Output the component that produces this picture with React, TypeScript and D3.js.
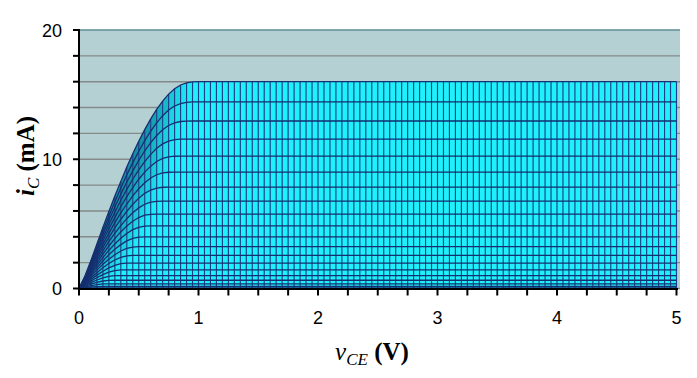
import React from "react";
import * as d3 from "d3";

// Saturation current of each curve (mA), read from the flat part at the right
const levels = [0.04, 0.16, 0.36, 0.64, 1.0, 1.44, 1.96, 2.56, 3.24, 4.0, 4.84, 5.76, 6.76, 7.84, 9.0, 10.24, 11.56, 12.96, 14.44, 16.0];
// Voltage (V) at which each curve reaches its flat level
const kneeV = [0.15, 0.195, 0.24, 0.285, 0.33, 0.375, 0.42, 0.465, 0.51, 0.555, 0.6, 0.645, 0.69, 0.735, 0.78, 0.825, 0.87, 0.915, 0.96, 1.0];
// Normalised rise profile (fraction of knee voltage -> fraction of level)
const shapeU = [0, 0.05, 0.1, 0.15, 0.2, 0.25, 0.3, 0.35, 0.4, 0.45, 0.5, 0.55, 0.6, 0.65, 0.7, 0.75, 0.8, 0.85, 0.9, 0.95, 1.0];
const shapeF = [0, 0.06, 0.135, 0.215, 0.295, 0.372, 0.447, 0.518, 0.588, 0.652, 0.712, 0.768, 0.82, 0.866, 0.906, 0.94, 0.966, 0.984, 0.994, 0.999, 1];

const xTickLabels = [0, 1, 2, 3, 4, 5];
const yTickLabels = [0, 10, 20];
const columnStep = 0.05;
const vMax = 5;
const iMax = 20;

export default function App() {
  const x = d3.scaleLinear().domain([0, vMax]).range([79, 676.5]);
  const y = d3.scaleLinear().domain([0, iMax]).range([288.5, 30]);
  const shape = d3.scaleLinear().domain(shapeU).range(shapeF).clamp(true);

  const vs = d3.range(0, Math.round(vMax / columnStep) + 1).map((j) => j * columnStep);
  const curves = levels.map((lv, k) => vs.map((v) => lv * shape(v / kneeV[k])));
  const zero = vs.map(() => 0);

  const cyan = "#1ff1fa";
  const teal = "#1590a6";
  const shade = d3.interpolateRgb(cyan, teal);

  const cells: JSX.Element[] = [];
  curves.forEach((cur, k) => {
    const low = k === 0 ? zero : curves[k - 1];
    for (let j = 0; j < vs.length - 1; j++) {
      const x0 = x(vs[j]);
      const x1 = x(vs[j + 1]);
      const pts = [
        [x0, y(low[j])],
        [x1, y(low[j + 1])],
        [x1, y(cur[j + 1])],
        [x0, y(cur[j])],
      ];
      const slopeTop = (y(cur[j]) - y(cur[j + 1])) / (x1 - x0);
      const slopeLow = (y(low[j]) - y(low[j + 1])) / (x1 - x0);
      const t = Math.min(1, Math.max(0, ((slopeTop + slopeLow) / 2) / 1.8));
      cells.push(
        <polygon
          key={`c${k}-${j}`}
          points={pts.map((p) => p.join(",")).join(" ")}
          fill={shade(t)}
          stroke={shade(t)}
          strokeWidth={0.3}
        />
      );
    }
  });

  const top = curves[curves.length - 1];
  const line = d3
    .line<number>()
    .x((_, j) => x(vs[j]))
    .y((d) => y(d));

  const gridVals = d3.range(0, iMax + 0.001, 2);
  const xMinorTicks = d3.range(0, vMax + 0.001, 0.25);

  return (
    <svg
      width={697}
      height={378}
      style={{ position: "absolute", left: 0, top: 0, background: "#fff" }}
    >
      <rect x={79} y={30} width={601} height={258.5} fill="#b4d0d2" />
      {gridVals.map((g) => (
        <line
          key={`g${g}`}
          x1={79}
          x2={680}
          y1={y(g)}
          y2={y(g)}
          stroke={g === iMax ? "#5e8e94" : "#858a8a"}
          strokeWidth={1.4}
        />
      ))}
      {cells}
      {vs.map((v, j) => (
        <line
          key={`v${j}`}
          x1={x(v)}
          x2={x(v)}
          y1={y(0)}
          y2={y(top[j])}
          stroke="#1d3f8c"
          strokeWidth={1.15}
        />
      ))}
      {curves.map((cur, k) => (
        <path
          key={`l${k}`}
          d={line(cur) || ""}
          fill="none"
          stroke="#152f70"
          strokeWidth={1.3}
        />
      ))}
      {/* axes */}
      <line x1={79} x2={79} y1={29} y2={289.5} stroke="#000" strokeWidth={2} />
      <line x1={78} x2={678} y1={289} y2={289} stroke="#000" strokeWidth={2} />
      {gridVals.map((g) => (
        <line key={`yt${g}`} x1={73} x2={79} y1={y(g)} y2={y(g)} stroke="#000" strokeWidth={2} />
      ))}
      {xMinorTicks.map((t) => (
        <line key={`xt${t}`} x1={x(t)} x2={x(t)} y1={289} y2={295.5} stroke="#000" strokeWidth={2} />
      ))}
      {yTickLabels.map((t) => (
        <text
          key={`yl${t}`}
          x={62}
          y={y(t) + 6.5}
          textAnchor="end"
          fontFamily="Liberation Sans, Arial, sans-serif"
          fontSize={18}
          fill="#000"
        >
          {t}
        </text>
      ))}
      {xTickLabels.map((t) => (
        <text
          key={`xl${t}`}
          x={x(t)}
          y={324}
          textAnchor="middle"
          fontFamily="Liberation Sans, Arial, sans-serif"
          fontSize={18}
          fill="#000"
        >
          {t}
        </text>
      ))}
      <text
        x={372}
        y={360}
        textAnchor="middle"
        fontFamily="Liberation Serif, Times New Roman, serif"
        fontSize={25}
        fill="#000"
      >
        <tspan fontStyle="italic">v</tspan>
        <tspan fontStyle="italic" fontSize={17} dy={5}>CE</tspan>
        <tspan fontWeight="bold" dy={-5}> (V)</tspan>
      </text>
      <text
        transform={`translate(34,156) rotate(-90)`}
        textAnchor="middle"
        fontFamily="Liberation Serif, Times New Roman, serif"
        fontSize={25}
        fill="#000"
      >
        <tspan fontStyle="italic" fontWeight="bold">i</tspan>
        <tspan fontStyle="italic" fontSize={17} dy={5}>C</tspan>
        <tspan fontWeight="bold" dy={-5}> (mA)</tspan>
      </text>
    </svg>
  );
}
